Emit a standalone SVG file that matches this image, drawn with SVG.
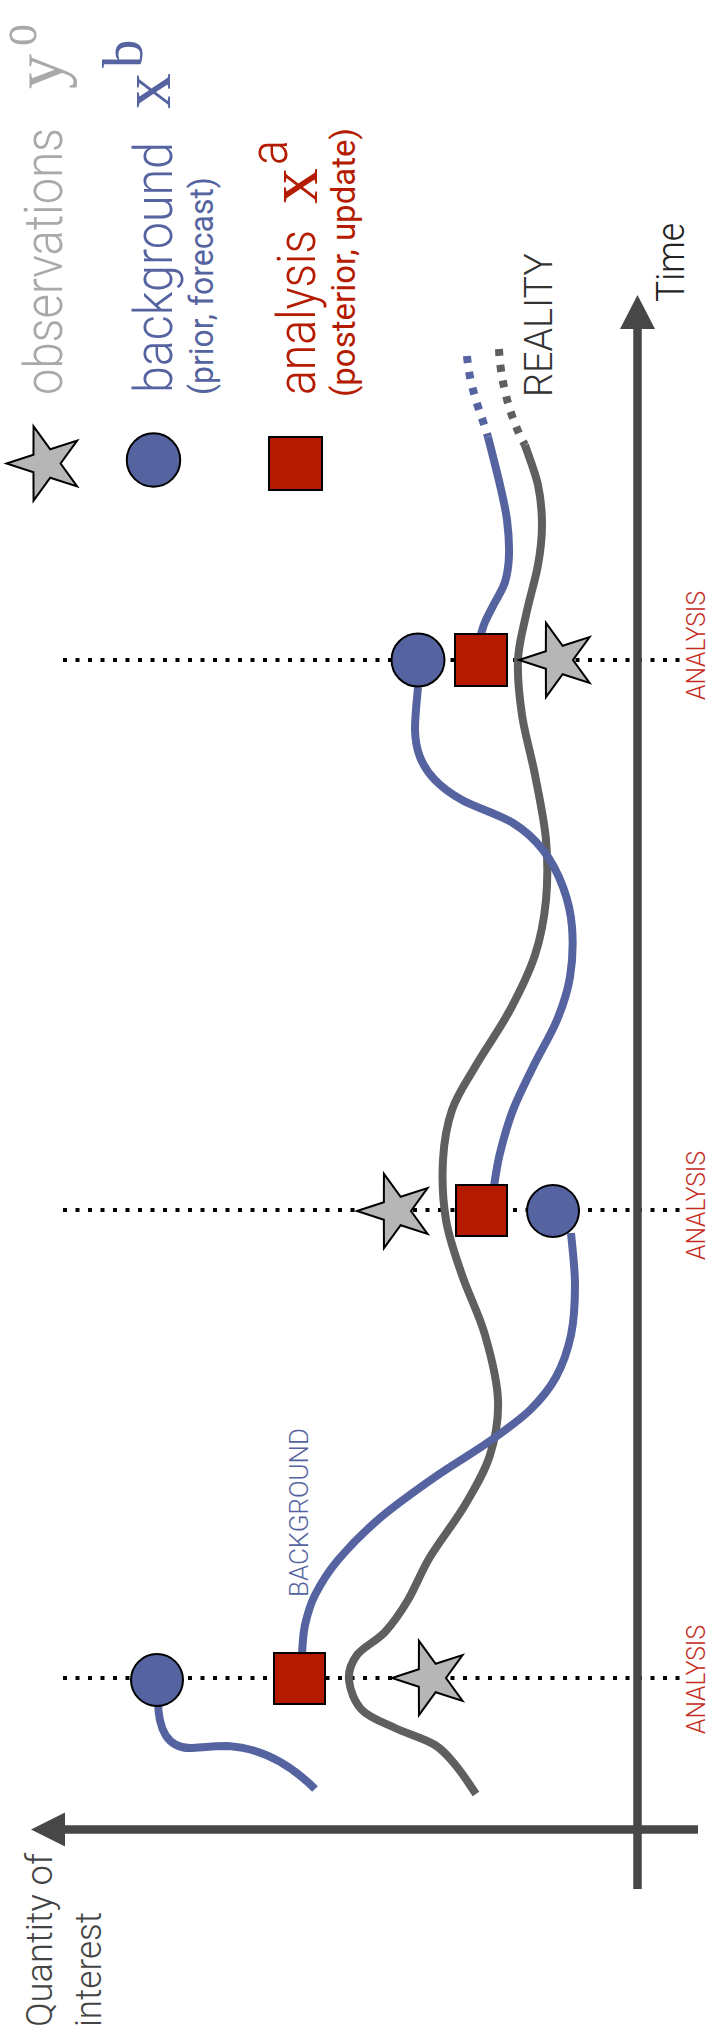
<svg xmlns="http://www.w3.org/2000/svg" xmlns:xlink="http://www.w3.org/1999/xlink" width="715" height="2033" viewBox="0 0 715 2033">
  <style>
    .sans { font-family: "Roboto", "Liberation Sans", sans-serif; font-weight: 300; }
    .sansR { font-family: "Roboto", "Liberation Sans", sans-serif; font-weight: 400; }
    .serif { font-family: "Liberation Serif", "DejaVu Serif", serif; }
    .obs { fill: #a9a9a9; }
    .bg { fill: #5563a0; }
    .an { fill: #b51b00; }
    .tag { fill: #c42b1c; }
    .dots { stroke: #000; stroke-width: 4; stroke-dasharray: 4 8.5; fill: none; }
    .axis { stroke: #474747; stroke-width: 8.5; fill: none; }
    .head { fill: #474747; }
    .bgline { stroke: #5563a0; stroke-width: 8; fill: none; }
    .truth { stroke: #5f5f5f; stroke-width: 8; fill: none; }
    .dash { stroke-dasharray: 7 9; }
    .circ { fill: #5563a0; stroke: #000; stroke-width: 2; }
    .sq { fill: #b31a00; stroke: #000; stroke-width: 2; }
    .star { fill: #b6b6b6; stroke: #000; stroke-width: 2; }
  </style>
  <defs>
    <!-- five-point star, one tip pointing left -->
    <polygon id="starShape" points="-39,0 -12.14,-8.82 -12.05,-37.09 4.64,-14.27 31.55,-22.92 15,0 31.55,22.92 4.64,14.27 -12.05,37.09 -12.14,8.82"/>
  </defs>

  <rect width="715" height="2033" fill="#fff"/>

  <!-- analysis time marks -->
  <g id="analysis-marks">
    <line class="dots" x1="63" y1="660" x2="682" y2="660"/>
    <line class="dots" x1="63" y1="1210" x2="682" y2="1210"/>
    <line class="dots" x1="63" y1="1678" x2="682" y2="1678"/>
    <text class="sans tag" font-size="26" textLength="109" lengthAdjust="spacingAndGlyphs" transform="translate(705,700) rotate(-90)">ANALYSIS</text>
    <text class="sans tag" font-size="26" textLength="109" lengthAdjust="spacingAndGlyphs" transform="translate(705,1260) rotate(-90)">ANALYSIS</text>
    <text class="sans tag" font-size="26" textLength="109" lengthAdjust="spacingAndGlyphs" transform="translate(705,1734) rotate(-90)">ANALYSIS</text>
  </g>

  <!-- axes -->
  <g id="axes">
    <line class="axis" x1="637.5" y1="1889" x2="637.5" y2="326"/>
    <polygon class="head" points="637.5,295 620,329 655,329"/>
    <line class="axis" x1="698" y1="1829.5" x2="63" y2="1829.5"/>
    <polygon class="head" points="31,1829.5 65,1812.5 65,1846.5"/>
    <text class="sans" fill="#222" font-size="38" textLength="79" lengthAdjust="spacingAndGlyphs" transform="translate(684,302) rotate(-90)">Time</text>
    <text class="sans" fill="#444" font-size="37" textLength="174" lengthAdjust="spacingAndGlyphs" transform="translate(52,2027) rotate(-90)">Quantity of</text>
    <text class="sans" fill="#444" font-size="37" textLength="115" lengthAdjust="spacingAndGlyphs" transform="translate(101,2027) rotate(-90)">interest</text>
  </g>

  <!-- trajectories -->
  <g id="connectors">
    <!-- reality -->
    <path class="truth dash" d="M499,349 C500,375 508,415 525,445"/>
    <path class="truth" d="M525,445 C527.8,453.8 535.2,471.7 538,485 C540.8,498.3 542,511.7 542,525 C542,538.3 540.7,550 538,565 C535.3,580 529.3,599.2 526,615 C522.7,630.8 518.7,643.3 518,660 C517.3,676.7 519.2,695.8 522,715 C524.8,734.2 531,754.2 535,775 C539,795.8 544.2,819.2 546,840 C547.8,860.8 547.8,880.8 546,900 C544.2,919.2 541,936.7 535,955 C529,973.3 520,991.3 510,1010 C500,1028.7 484.7,1050.3 475,1067 C465.3,1083.7 457.3,1094.5 452,1110 C446.7,1125.5 444,1141.7 443,1160 C442,1178.3 442.8,1200.8 446,1220 C449.2,1239.2 455.5,1255.8 462,1275 C468.5,1294.2 479,1314.2 485,1335 C491,1355.8 497.2,1380 498,1400 C498.8,1420 495.5,1437.5 490,1455 C484.5,1472.5 475,1488 465,1505 C455,1522 439.5,1541.2 430,1557 C420.5,1572.8 415.5,1587.5 408,1600 C400.5,1612.5 393.5,1622.8 385,1632 C376.5,1641.2 363,1647 357,1655 C351,1663 348.2,1670.8 349,1680 C349.8,1689.2 354.3,1702 362,1710 C369.7,1718 382.8,1722.2 395,1728 C407.2,1733.8 424.7,1738.5 435,1745 C445.3,1751.5 450.2,1758.8 457,1767 C463.8,1775.2 472.8,1789.5 476,1794"/>
    <!-- forecasts -->
    <path class="bgline" d="M158,1700 C158,1730 168,1748 190,1748 C200,1748 208,1746 228,1746 C262,1748 292,1766 315,1789"/>
    <path class="bgline" d="M302,1653 C302.5,1648.3 302.8,1634.7 305,1625 C307.2,1615.3 309.5,1605.8 315,1595 C320.5,1584.2 327.2,1572.8 338,1560 C348.8,1547.2 363.8,1531.8 380,1518 C396.2,1504.2 416.7,1489.8 435,1477 C453.3,1464.2 474.2,1452.2 490,1441 C505.8,1429.8 519,1420.7 530,1410 C541,1399.3 549.2,1389.5 556,1377 C562.8,1364.5 567.8,1350.3 571,1335 C574.2,1319.7 575,1302 575,1285 C575,1268 571.7,1241.7 571,1233"/>
    <path class="bgline" d="M494,1186 C495,1180.5 496.8,1165.7 500,1153 C503.2,1140.3 507.5,1124.3 513,1110 C518.5,1095.7 525.7,1082 533,1067 C540.3,1052 550.8,1035 557,1020 C563.2,1005 567.5,992.5 570,977 C572.5,961.5 573.2,942 572,927 C570.8,912 567.8,899.8 563,887 C558.2,874.2 551.3,860.7 543,850 C534.7,839.3 526.5,831.3 513,823 C499.5,814.7 475,807.2 462,800 C449,792.8 442,787.2 435,780 C428,772.8 423.3,765.3 420,757 C416.7,748.7 415.3,741.7 415,730 C414.7,718.3 417.5,694 418,687"/>
    <path class="bgline" d="M481,634 C481.7,632 482.8,627 485,622 C487.2,617 490.7,610.7 494,604 C497.3,597.3 502.5,590.2 505,582 C507.5,573.8 508.7,565.3 509,555 C509.3,544.7 508.5,531.7 507,520 C505.5,508.3 503.2,498.8 500,485 C496.8,471.2 490,445 488,437"/>
    <path class="bgline dash" d="M467,356 C470,390 481,413 488,437"/>
    <text class="sans bg" font-size="25" textLength="169" lengthAdjust="spacingAndGlyphs" transform="translate(308,1597) rotate(-90)">BACKGROUND</text>
    <text class="sans" fill="#333" font-size="38" textLength="144" lengthAdjust="spacingAndGlyphs" transform="translate(552,397) rotate(-90)">REALITY</text>
  </g>

  <!-- first analysis time -->
  <g id="bg-1"><circle class="circ" cx="418" cy="660" r="26.5"/></g>
  <g id="an-1"><rect class="sq" x="455" y="634" width="52" height="52"/></g>
  <g id="obs-1"><use class="star" href="#starShape" xlink:href="#starShape" x="558" y="660"/></g>

  <!-- second analysis time -->
  <g id="bg-2"><circle class="circ" cx="553" cy="1211" r="26"/></g>
  <g id="an-2"><rect class="sq" x="456" y="1185" width="51" height="51"/></g>
  <g id="obs-2"><use class="star" href="#starShape" xlink:href="#starShape" x="396" y="1211"/></g>

  <!-- third analysis time -->
  <g id="bg-3"><circle class="circ" cx="157" cy="1680" r="26"/></g>
  <g id="an-3"><rect class="sq" x="274" y="1653" width="51" height="51"/></g>
  <g id="obs-3"><use class="star" href="#starShape" xlink:href="#starShape" x="431" y="1678"/></g>

  <!-- legend -->
  <g id="legend">
    <use class="star" href="#starShape" xlink:href="#starShape" x="45.6" y="463.5"/>
    <circle class="circ" cx="153.5" cy="460" r="26.7"/>
    <rect class="sq" x="269" y="437" width="53" height="53"/>

    <text class="sans obs" font-size="53" textLength="267" lengthAdjust="spacingAndGlyphs" transform="translate(62,395) rotate(-90)">observations</text>
    <text class="serif obs" font-size="70" transform="translate(62,89) rotate(-90)">y</text>
    <text class="serif obs" font-size="56" textLength="22" lengthAdjust="spacingAndGlyphs" transform="translate(36,46) rotate(-90)">o</text>

    <text class="sans bg" font-size="53" textLength="251" lengthAdjust="spacingAndGlyphs" transform="translate(172,393) rotate(-90)">background</text>
    <text class="serif bg" font-size="72" transform="translate(170,109) rotate(-90)">x</text>
    <text class="serif bg" font-size="57" transform="translate(142,68) rotate(-90)">b</text>
    <text class="sansR bg" font-size="33" textLength="218" lengthAdjust="spacingAndGlyphs" transform="translate(213,395) rotate(-90)">(prior, forecast)</text>

    <text class="sans an" font-size="53" textLength="165" lengthAdjust="spacingAndGlyphs" transform="translate(315,395) rotate(-90)">analysis</text>
    <text class="serif an" font-size="72" transform="translate(317,204) rotate(-90)">x</text>
    <text class="sans an" font-size="54" textLength="25" lengthAdjust="spacingAndGlyphs" transform="translate(287,165) rotate(-90)">a</text>
    <text class="sansR an" font-size="33" textLength="269" lengthAdjust="spacingAndGlyphs" transform="translate(355,397) rotate(-90)">(posterior, update)</text>
  </g>
</svg>
